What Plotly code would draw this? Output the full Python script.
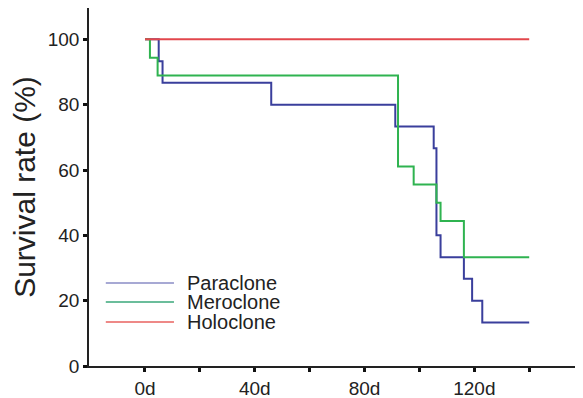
import plotly.graph_objects as go

# Data (days, survival %)
para_days = [0, 5, 6.4, 46, 91.2, 105.2, 106.2, 107.7, 116.2, 119.2, 122.9, 140]
para_surv = [100, 93.3, 86.7, 80, 73.3, 66.7, 40, 33.3, 26.7, 20, 13.3, 13.3]
mero_days = [0, 1.8, 4.6, 92.2, 97.9, 106.2, 107.7, 116.2, 140]
mero_surv = [100, 94.4, 88.9, 61.1, 55.6, 50, 44.4, 33.3, 33.3]
holo_days = [0, 140]
holo_surv = [100, 100]

x_tickvals = [0, 20, 40, 60, 80, 100, 120, 140]
x_ticktext = ["0d", "", "40d", "", "80d", "", "120d", ""]
y_tickvals = [0, 20, 40, 60, 80, 100]

series_names = ["Paraclone", "Meroclone", "Holoclone"]
colors = ["#3a3f9c", "#2fb350", "#e2474c"]
legend_colors = ["#8a8dc6", "#3aa77a", "#e8625f"]

FONT = "Arial, Liberation Sans, sans-serif"

fig = go.Figure()
for name, xs, ys, c in zip(series_names,
                           [para_days, mero_days, holo_days],
                           [para_surv, mero_surv, holo_surv], colors):
    fig.add_trace(go.Scatter(x=xs, y=ys, mode="lines", name=name,
                             line=dict(color=c, width=2, shape="hv"),
                             showlegend=False))

# Manual legend (long sample lines like the reference)
leg_y = [0.232, 0.179, 0.123]
for name, c, yy in zip(series_names, legend_colors, leg_y):
    fig.add_shape(type="line", xref="paper", yref="paper",
                  x0=0.034, x1=0.172, y0=yy, y1=yy,
                  line=dict(color=c, width=1.5))
    fig.add_annotation(text=name, xref="paper", yref="paper",
                       x=0.194, y=yy, xanchor="left", yanchor="middle",
                       showarrow=False, font=dict(family=FONT, size=20, color="#222"))

fig.update_layout(
    width=575, height=390,
    margin=dict(l=81, r=0, t=0, b=32),
    plot_bgcolor="white", paper_bgcolor="white",
    font=dict(family=FONT, size=19, color="#222"),
    xaxis=dict(range=[-20.4, 159.6], tickvals=x_tickvals, ticktext=x_ticktext,
               ticks="outside", ticklen=4, tickwidth=3, tickcolor="#111",
               showline=True, linecolor="#222", linewidth=1.5,
               showgrid=False, zeroline=False, automargin=False,
               tickfont=dict(family=FONT, size=19, color="#222")),
    yaxis=dict(range=[0, 109.6], tickvals=y_tickvals,
               ticks="outside", ticklen=4, tickwidth=3, tickcolor="#111",
               showline=True, linecolor="#222", linewidth=1.5,
               showgrid=False, zeroline=False, automargin=False,
               tickfont=dict(family=FONT, size=19, color="#222"),
               title=dict(text="Survival rate (%)", standoff=9,
                          font=dict(family=FONT, size=30, color="#222"))),
)

fig.write_html("out.html")
